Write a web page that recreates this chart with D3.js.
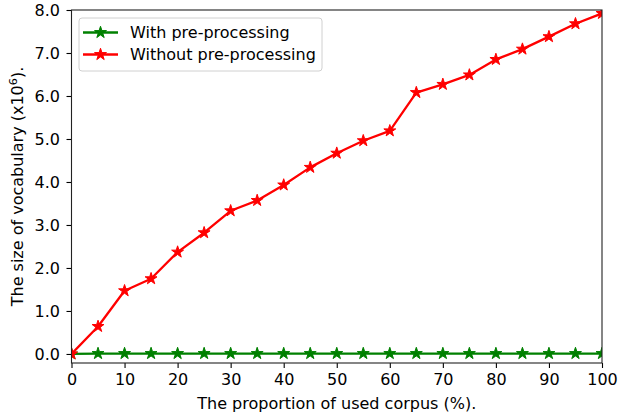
<!DOCTYPE html>
<html>
<head>
<meta charset="utf-8">
<script src="https://cdn.jsdelivr.net/npm/d3@7"></script>
<style>
  html, body { margin: 0; padding: 0; background: #fff; }
  svg text { font-family: "DejaVu Sans", sans-serif; fill: #000; }
</style>
</head>
<body>
<svg id="chart" width="618" height="417"></svg>
<script>
// ---- data ----
const proportions = [0, 5, 10, 15, 20, 25, 30, 35, 40, 45, 50, 55, 60, 65, 70, 75, 80, 85, 90, 95, 100];
const withPre = [0.0, 0.01, 0.01, 0.01, 0.01, 0.01, 0.01, 0.01, 0.01, 0.01, 0.01, 0.01, 0.01, 0.01, 0.01, 0.01, 0.01, 0.01, 0.01, 0.01, 0.01];
const withoutPre = [0.0, 0.64, 1.47, 1.75, 2.37, 2.82, 3.33, 3.57, 3.93, 4.34, 4.67, 4.96, 5.19, 6.08, 6.27, 6.49, 6.85, 7.09, 7.38, 7.68, 7.92];
const seriesNames = ["With pre-processing", "Without pre-processing"];
const seriesColors = ["#008000", "#ff0000"];
const xTicks = [0, 10, 20, 30, 40, 50, 60, 70, 80, 90, 100];
const yTicks = [0, 1, 2, 3, 4, 5, 6, 7, 8];
const xLabel = "The proportion of used corpus (%).";

// ---- layout ----
const svg = d3.select("#chart");
const L = 71.5, R = 602, T = 10, B = 363;
const fs = 16;

const x = d3.scaleLinear().domain([0, 100]).range([L, R]);
const y = d3.scaleLinear().domain([-0.21, 8]).range([B, T]);

// clip
svg.append("defs").append("clipPath").attr("id", "clip")
  .append("rect").attr("x", L).attr("y", T).attr("width", R - L).attr("height", B - T);

const series = [withPre, withoutPre];
const plot = svg.append("g").attr("clip-path", "url(#clip)");
const line = d3.line().x((d, i) => x(proportions[i])).y(d => y(d));
const star = d3.symbol().type(d3.symbolStar).size(44);

series.forEach((vals, si) => {
  plot.append("path").datum(vals)
    .attr("d", line)
    .attr("fill", "none")
    .attr("stroke", seriesColors[si])
    .attr("stroke-width", 2.3)
    .attr("stroke-linejoin", "round");
  plot.selectAll(null).data(vals).enter().append("path")
    .attr("d", star)
    .attr("transform", (d, i) => `translate(${x(proportions[i])},${y(d)})`)
    .attr("fill", seriesColors[si])
    .attr("stroke", seriesColors[si])
    .attr("stroke-width", 1);
});

// axes
const xAxis = d3.axisBottom(x).tickValues(xTicks).tickSize(5).tickPadding(6).tickFormat(d3.format("d"));
const gx = svg.append("g").attr("transform", `translate(0,${B})`).call(xAxis);
const yAxis = d3.axisLeft(y).tickValues(yTicks).tickSize(5).tickPadding(6.5).tickFormat(d3.format(".1f"));
const gy = svg.append("g").attr("transform", `translate(${L},0)`).call(yAxis);
[gx, gy].forEach(g => {
  g.select(".domain").remove();
  g.selectAll(".tick line").attr("stroke", "#000").attr("stroke-width", 1.1);
  g.selectAll(".tick text").attr("font-size", fs).attr("font-family", "DejaVu Sans").attr("fill", "#000");
});

// frame
svg.append("rect").attr("x", L).attr("y", T).attr("width", R - L).attr("height", B - T)
  .attr("fill", "none").attr("stroke", "#222").attr("stroke-width", 1.1);

// axis labels
svg.append("text").attr("x", (L + R) / 2).attr("y", 409)
  .attr("text-anchor", "middle").attr("font-size", fs).text(xLabel);
const yl = svg.append("text")
  .attr("transform", `translate(23,${(T + B) / 2}) rotate(-90)`)
  .attr("text-anchor", "middle").attr("font-size", fs);
yl.append("tspan").text("The size of vocabulary (x10");
yl.append("tspan").attr("font-size", fs * 0.7).attr("dy", -6).text("6");
yl.append("tspan").attr("dy", 6).text(").");

// legend
const lg = svg.append("g");
lg.append("rect").attr("x", 79).attr("y", 18).attr("width", 243).attr("height", 53)
  .attr("rx", 3).attr("fill", "#fff").attr("fill-opacity", 0.8)
  .attr("stroke", "#d0d0d0").attr("stroke-width", 1);
seriesNames.forEach((name, i) => {
  const cy = 32.5 + i * 22;
  lg.append("line").attr("x1", 83).attr("x2", 118).attr("y1", cy).attr("y2", cy)
    .attr("stroke", seriesColors[i]).attr("stroke-width", 2.3);
  lg.append("path").attr("d", star).attr("transform", `translate(100.5,${cy})`)
    .attr("fill", seriesColors[i]).attr("stroke", seriesColors[i]).attr("stroke-width", 1);
  lg.append("text").attr("x", 130).attr("y", cy).attr("dy", "0.36em")
    .attr("font-size", fs).text(name);
});
</script>
</body>
</html>
